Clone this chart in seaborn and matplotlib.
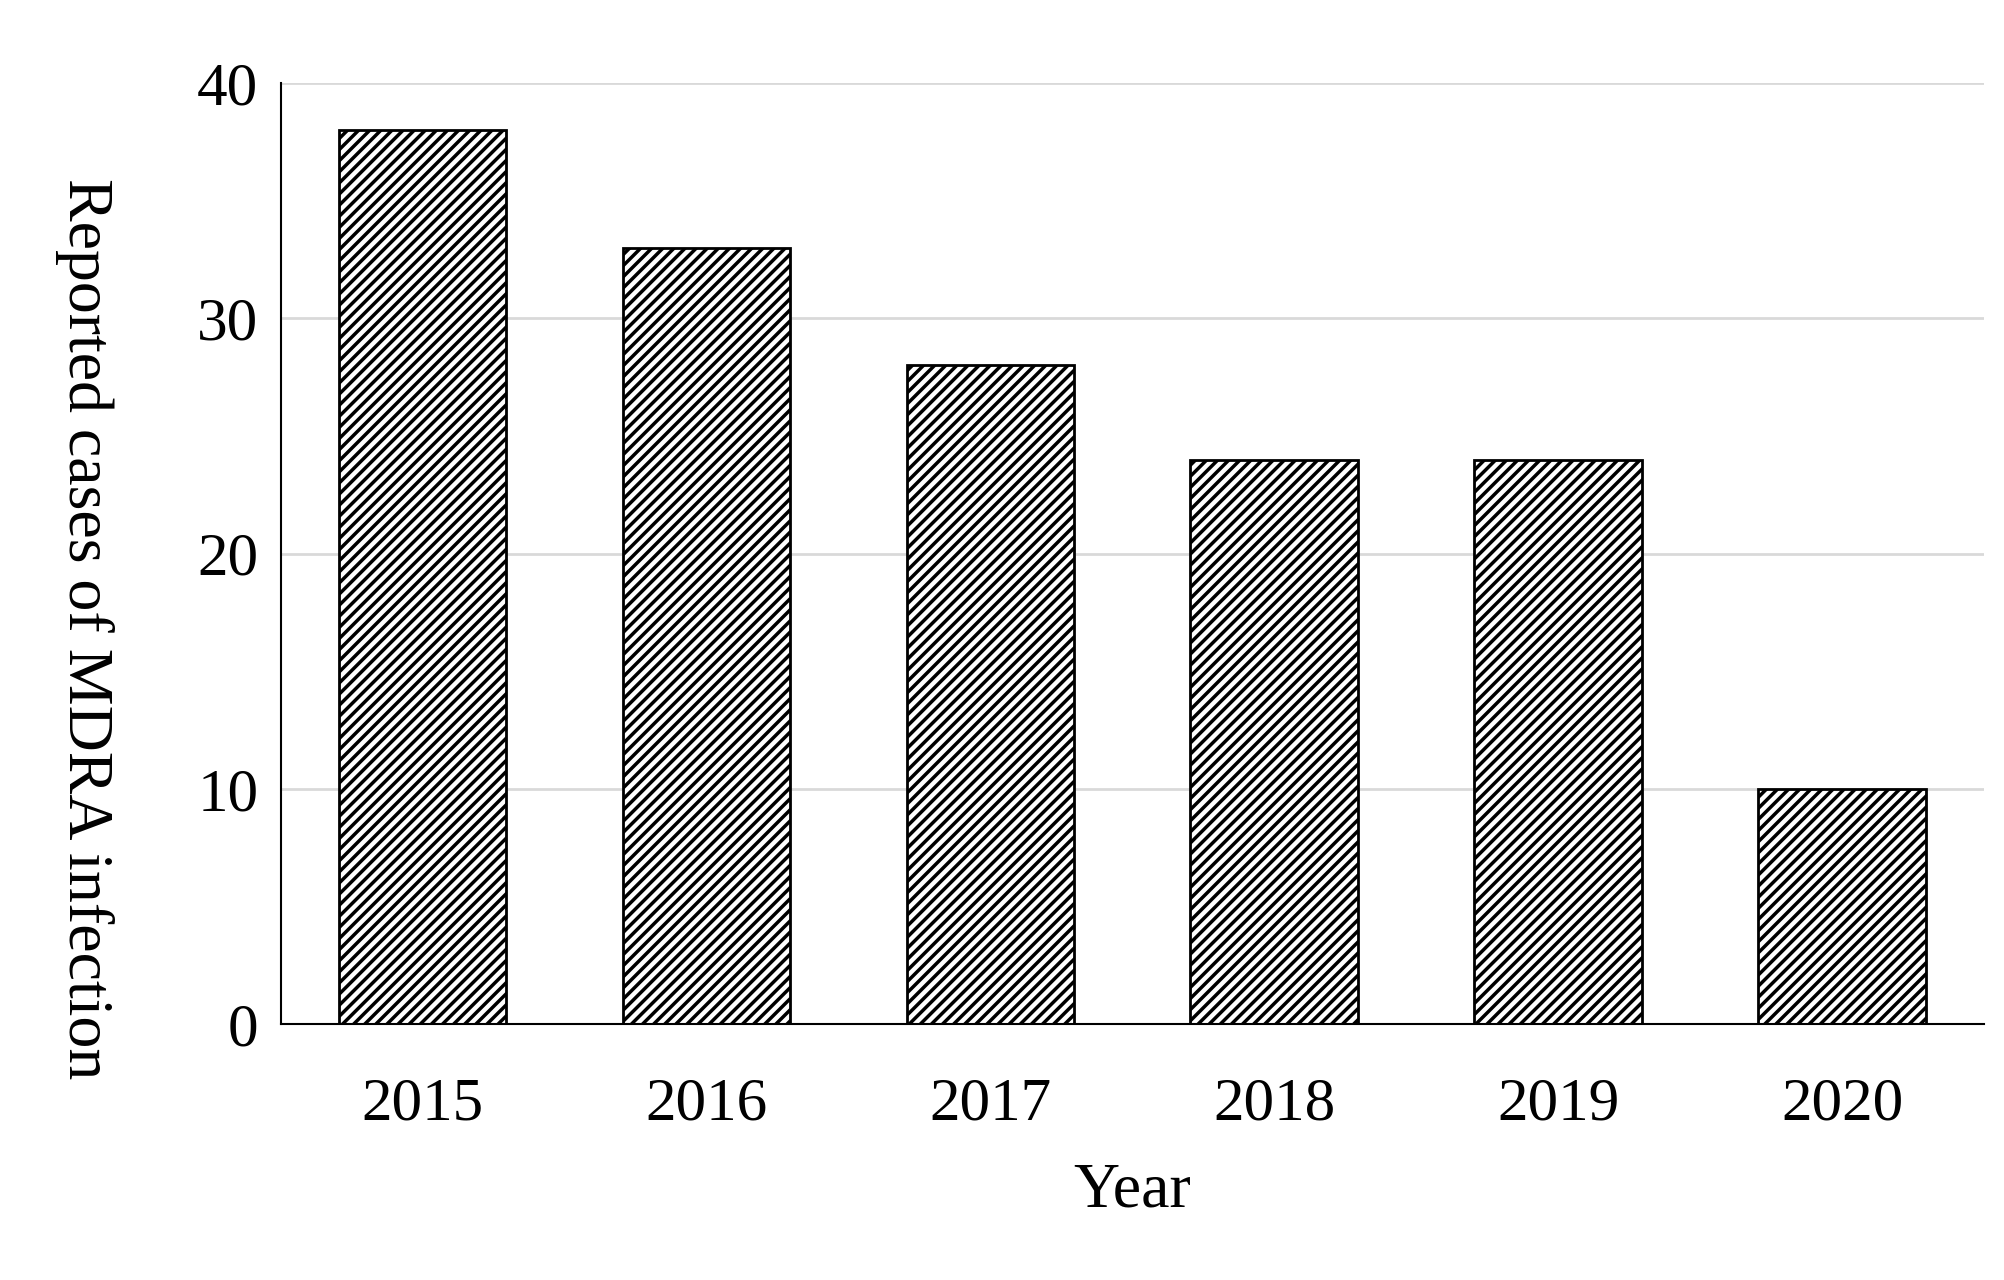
import matplotlib
matplotlib.use("Agg")
import matplotlib.pyplot as plt
import seaborn as sns
import pandas as pd

years = ["2015", "2016", "2017", "2018", "2019", "2020"]
cases = [38, 33, 28, 24, 24, 10]

sns.set_theme(style="white")
plt.rcParams['font.family'] = ['Liberation Serif', 'DejaVu Serif']
plt.rcParams['hatch.linewidth'] = 2.5

df = pd.DataFrame({"Year": years, "Cases": cases})

fig = plt.figure(figsize=(20.04, 12.8), dpi=100)
ax = fig.add_axes([0.14, 0.20, 0.85, 0.735])
sns.barplot(data=df, x="Year", y="Cases", color="white", edgecolor="black",
            linewidth=2, width=0.59, ax=ax)
for p in ax.patches:
    p.set_hatch("///")

ax.set_ylim(0, 40)
ax.set_yticks([0, 10, 20, 30, 40])
ax.yaxis.grid(True, color="#d9d9d9", linewidth=2)
ax.set_axisbelow(True)
for s in ["top", "right"]:
    ax.spines[s].set_visible(False)
for s in ["left", "bottom"]:
    ax.spines[s].set_color("black")
    ax.spines[s].set_linewidth(1.5)
ax.tick_params(axis="both", labelsize=44, colors="black", length=0, pad=16)
ax.tick_params(axis="x", pad=38)
ax.set_xlabel("Year", fontsize=46, color="black", labelpad=22)
ax.set_ylabel("Reported cases of MDRA infection", fontsize=46, color="black",
              rotation=270, va="center")
ax.yaxis.set_label_coords(-0.115, 0.42)

fig.savefig("out.png", dpi=100)
